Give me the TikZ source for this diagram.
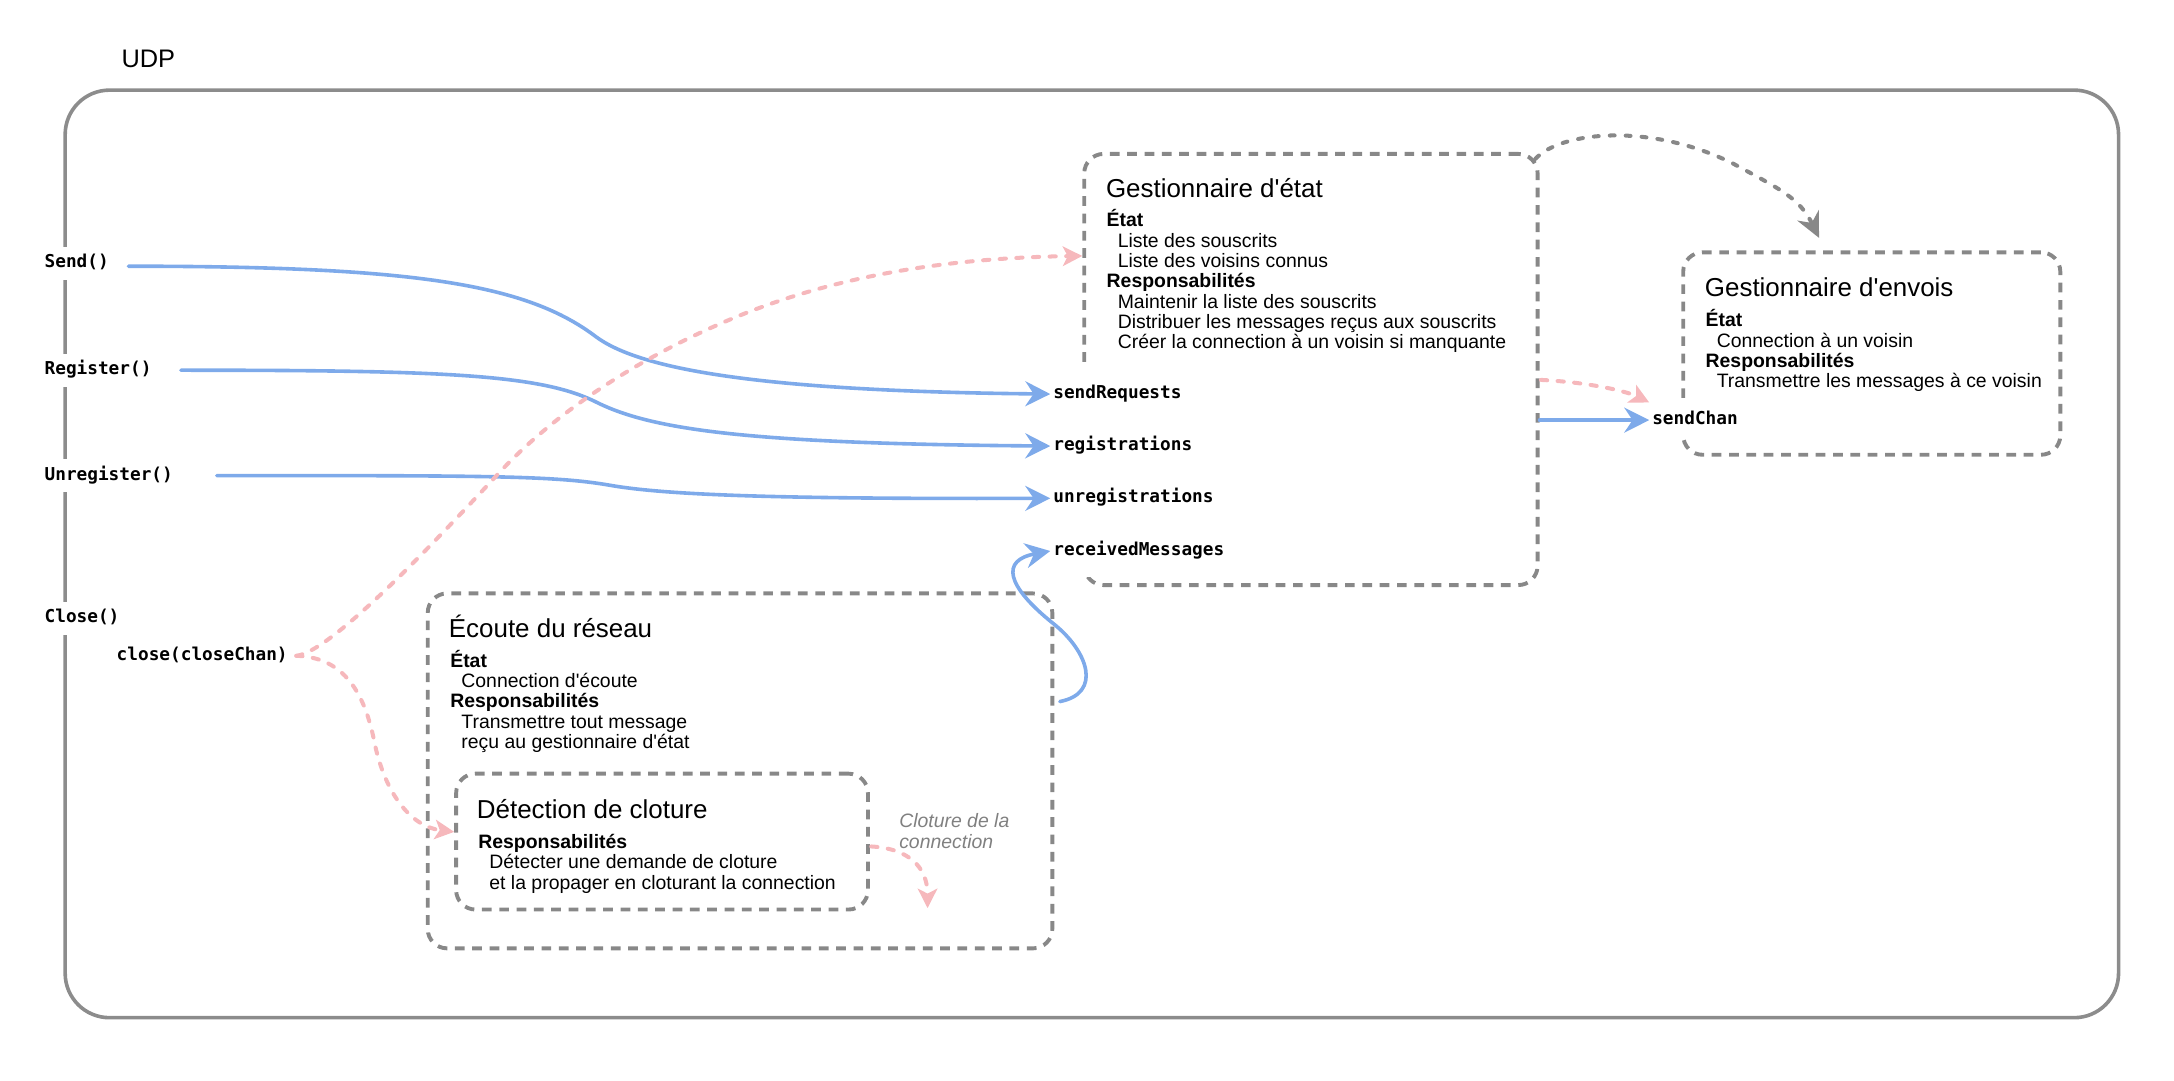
\documentclass[tikz,border=0pt]{standalone}
\usepackage{fontspec}
\setmainfont{Liberation Sans}[Ligatures=TeXOff]
\newfontfamily\monof{DejaVu Sans Mono}
\usetikzlibrary{arrows.meta,calc}
\definecolor{grayc}{RGB}{136,136,136}
\definecolor{framec}{RGB}{140,140,140}
\definecolor{bluec}{RGB}{126,170,234}
\definecolor{pinkc}{RGB}{246,184,188}
\definecolor{notec}{RGB}{128,128,128}
\newcommand\txtlines[5]{%
  \foreach \txt [count=\idx from 0] in {#5} {%
    \node[#1] (#2-\idx) at (#3,{#4+\idx*14.66}) {\txt};}}
\begin{document}
\begin{tikzpicture}[x=1pt,y=-1pt,
  outerframe/.style={draw=framec, line width=2.6pt, rounded corners=32pt, inner sep=0pt},
  dbox/.style={draw=grayc, line width=2.8pt, dash pattern=on 7pt off 5.5pt, rounded corners=14pt, inner sep=0pt},
  ttl/.style={font=\fontsize{18.7}{22}\selectfont, inner sep=0pt, anchor=base west},
  body/.style={font=\fontsize{14}{14.66}\selectfont, inner sep=0pt, anchor=base west},
  note/.style={font=\fontsize{14}{14.66}\selectfont\itshape, text=notec, inner sep=0pt, anchor=base west},
  mono/.style={font=\monof\bfseries\fontsize{12.8}{14}\selectfont, text height=9.5pt, text depth=3pt, inner sep=2pt, anchor=west},
  api/.style={mono, fill=white, minimum height=24pt},
  chan/.style={mono, fill=white, minimum height=37.7pt},
  bluearrow/.style={draw=bluec, line width=2.6pt, line cap=round, -{Stealth[length=18pt,width=18pt,inset=6pt]}},
  pinkarrow/.style={draw=pinkc, line width=2.9pt, line cap=round, dash pattern=on 4.5pt off 7.5pt, -{Stealth[length=14pt,width=14pt,inset=3.5pt]}},
  grayarrow/.style={draw=grayc, line width=2.9pt, line cap=round, dash pattern=on 3.5pt off 8pt, -{Stealth[length=18pt,width=17pt,inset=6pt]}}
]
\useasboundingbox (0,0) rectangle (1568,779);

% frame and boxes
\node[outerframe, minimum width=1481pt, minimum height=669pt] (udpframe) at (787.5,399.5) {};
\node[ttl, font=\fontsize{18.3}{20}\selectfont] (udp) at (87.5,48.5) {UDP};
\node[dbox, minimum width=327pt, minimum height=311pt] (etat) at (945.5,266.5) {};
\node[dbox, minimum width=272pt, minimum height=146pt] (envois) at (1350,255) {};
\node[dbox, minimum width=450.5pt, minimum height=256pt] (ecoute) at (533.75,556) {};
\node[dbox, minimum width=297pt, minimum height=98pt] (detect) at (477.5,607) {};

% API labels
\node[api] (send) at (30,190) {Send()};
\node[api] (register) at (30,267) {Register()};
\node[api] (unregister) at (30,343) {Unregister()};
\node[api] (closeapi) at (30,446) {Close()};
\node[mono] (closechan) at (82,473) {close(closeChan)};

% channel labels
\node[chan] (sendreq) at (757.5,284.2) {sendRequests};
\node[chan] (regs) at (757.5,321.7) {registrations};
\node[chan] (unregs) at (757.5,359.4) {unregistrations};
\node[chan] (recv) at (757.5,397.4) {receivedMessages};
\node[mono, fill=white, minimum height=25pt] (sendchan) at (1189.5,303) {sendChan};

% box texts
\node[ttl] (etat-title) at (797.5,142.3) {Gestionnaire d'état};
\txtlines{body}{etat}{798}{163.6}{{\bfseries État},{\hspace*{8pt}Liste des souscrits},{\hspace*{8pt}Liste des voisins connus},{\bfseries Responsabilités},{\hspace*{8pt}Maintenir la liste des souscrits},{\hspace*{8pt}Distribuer les messages reçus aux souscrits},{\hspace*{8pt}Créer la connection à un voisin si manquante}}

\node[ttl] (envois-title) at (1229.5,214) {Gestionnaire d'envois};
\txtlines{body}{envois}{1230}{235.7}{{\bfseries État},{\hspace*{8pt}Connection à un voisin},{\bfseries Responsabilités},{\hspace*{8pt}Transmettre les messages à ce voisin}}

\node[ttl] (ecoute-title) at (323.6,459.6) {Écoute du réseau};
\txtlines{body}{ecoute}{324.6}{481.2}{{\bfseries État},{\hspace*{8pt}Connection d'écoute},{\bfseries Responsabilités},{\hspace*{8pt}Transmettre tout message},{\hspace*{8pt}reçu au gestionnaire d'état}}

\node[ttl] (detect-title) at (343.8,590.2) {Détection de cloture};
\txtlines{body}{detect}{344.8}{611.9}{{\bfseries Responsabilités},{\hspace*{8pt}Détecter une demande de cloture},{\hspace*{8pt}et la propager en cloturant la connection}}

\txtlines{note}{clot}{648.4}{597}{{Cloture de la},{connection}}

% blue connectors
\draw[bluearrow] ($(send.east)+(12,2)$) .. controls (300,192) and (380,205) .. (430,243) .. controls (460,265) and (540,282) .. (sendreq.west);
\draw[bluearrow] ($(register.east)+(19,0)$) .. controls (320,267) and (390,270) .. (430,290) .. controls (470,310) and (540,320) .. (regs.west);
\draw[bluearrow] ($(unregister.east)+(29.5,0)$) .. controls (350,343) and (400,343) .. (440,350) .. controls (480,357) and (560,360) .. (unregs.west);
\draw[bluearrow] ($(ecoute.east)+(4,-50)$) .. controls (795,500) and (785,470) .. (760,450) .. controls (725,422) and (722,404) .. (recv.west);
\draw[bluearrow] (etat.east |- sendchan.west) -- (sendchan.west);

% pink connectors
\coordinate (cc) at ($(closechan.east)+(4,0)$);
\coordinate (closeend) at (669,655);
\draw[pinkarrow] (cc) .. controls (240,470) and (320,384) .. (360,341) .. controls (400,298) and (460,258) .. (530,229) .. controls (600,200) and (680,186) .. ($(etat.north west)+(0,75)$);
\draw[pinkarrow] (cc) .. controls (245,474) and (262,495) .. (270,535) .. controls (277,570) and (295,596) .. ($(detect.west)+(0,-7)$);
\draw[pinkarrow] ($(detect.east)+(1,3.5)$) .. controls (655,612) and (669,625) .. (closeend);
\draw[pinkarrow] ($(etat.east)+(1,7.5)$) .. controls (1150,276) and (1175,283) .. (sendchan.north west);

% gray connector
\draw[grayarrow] ($(etat.north east)+(-3,5)$) .. controls (1125,95) and (1190,88) .. (1250,118) .. controls (1285,137) and (1298,143) .. ($(envois.north)+(-38,-9)$);
\end{tikzpicture}
\end{document}
